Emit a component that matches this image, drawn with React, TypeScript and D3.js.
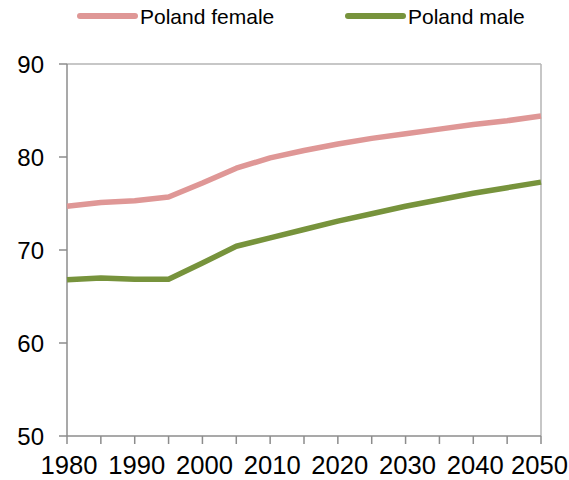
import * as d3 from "d3";
import * as React from "react";

const years = [1980, 1985, 1990, 1995, 2000, 2005, 2010, 2015, 2020, 2025, 2030, 2035, 2040, 2045, 2050];
const female = [74.7, 75.1, 75.3, 75.7, 77.2, 78.8, 79.9, 80.7, 81.4, 82.0, 82.5, 83.0, 83.5, 83.9, 84.4];
const male = [66.8, 67.0, 66.85, 66.85, 68.6, 70.4, 71.3, 72.2, 73.1, 73.9, 74.7, 75.4, 76.1, 76.7, 77.3];
const yTicks = [50, 60, 70, 80, 90];
const xLabels = [1980, 1990, 2000, 2010, 2020, 2030, 2040, 2050];

const series = [
    { name: "Poland female", values: female, color: "#df9796" },
    { name: "Poland male", values: male, color: "#77933c" },
];

const W = 569;
const H = 480;
const left = 67;
const right = 541;
const top = 64;
const bottom = 436;
const font = "'Liberation Sans', Arial, sans-serif";

export default function App(): JSX.Element {
    const x = d3.scaleLinear().domain([1980, 2050]).range([left, right]);
    const y = d3.scaleLinear().domain([50, 90]).range([bottom, top]);

    const line = d3.line<number>()
        .x((_, i) => x(years[i]))
        .y(d => y(d));

    const legendX = [80, 348];
    const labelW = 57;

    return (
        <svg width={W} height={H} style={{ position: "absolute", left: 0, top: 0, background: "#fff" }}>
            {/* plot frame */}
            <line x1={left} x2={right} y1={top} y2={top} stroke="#b5b5b5" strokeWidth={1.5} />
            <line x1={right} x2={right} y1={top} y2={bottom} stroke="#b5b5b5" strokeWidth={1.5} />

            {/* y axis */}
            <line x1={left} x2={left} y1={top} y2={bottom} stroke="#8c8c8c" strokeWidth={1.5} />
            {yTicks.map(t => (
                <g key={t}>
                    <line x1={left - 8} x2={left} y1={y(t)} y2={y(t)} stroke="#8c8c8c" strokeWidth={1.5} />
                    <text x={44} y={y(t)} textAnchor="end" dominantBaseline="central"
                        fontFamily={font} fontSize={24} fill="#000">{t}</text>
                </g>
            ))}

            {/* x axis */}
            <line x1={left} x2={right} y1={bottom} y2={bottom} stroke="#8c8c8c" strokeWidth={1.5} />
            {years.map(t => (
                <line key={t} x1={x(t)} x2={x(t)} y1={bottom} y2={bottom + 8} stroke="#8c8c8c" strokeWidth={1.5} />
            ))}
            {xLabels.map(t => {
                const cx = Math.min(x(t) + 2, W - 1 - labelW / 2);
                return (
                    <text key={t} x={cx - labelW / 2} y={474} textLength={labelW} lengthAdjust="spacingAndGlyphs"
                        fontFamily={font} fontSize={25} fill="#000">{t}</text>
                );
            })}

            {/* lines */}
            {series.map(s => (
                <path key={s.name} d={line(s.values) || ""} fill="none" stroke={s.color}
                    strokeWidth={5.5} strokeLinejoin="round" />
            ))}

            {/* legend */}
            {series.map((s, i) => (
                <g key={s.name}>
                    <line x1={legendX[i]} x2={legendX[i] + 55} y1={16} y2={16} stroke={s.color}
                        strokeWidth={6} strokeLinecap="round" />
                    <text x={legendX[i] + 60} y={16} dominantBaseline="central"
                        fontFamily={font} fontSize={21} fill="#000">{s.name}</text>
                </g>
            ))}
        </svg>
    );
}
